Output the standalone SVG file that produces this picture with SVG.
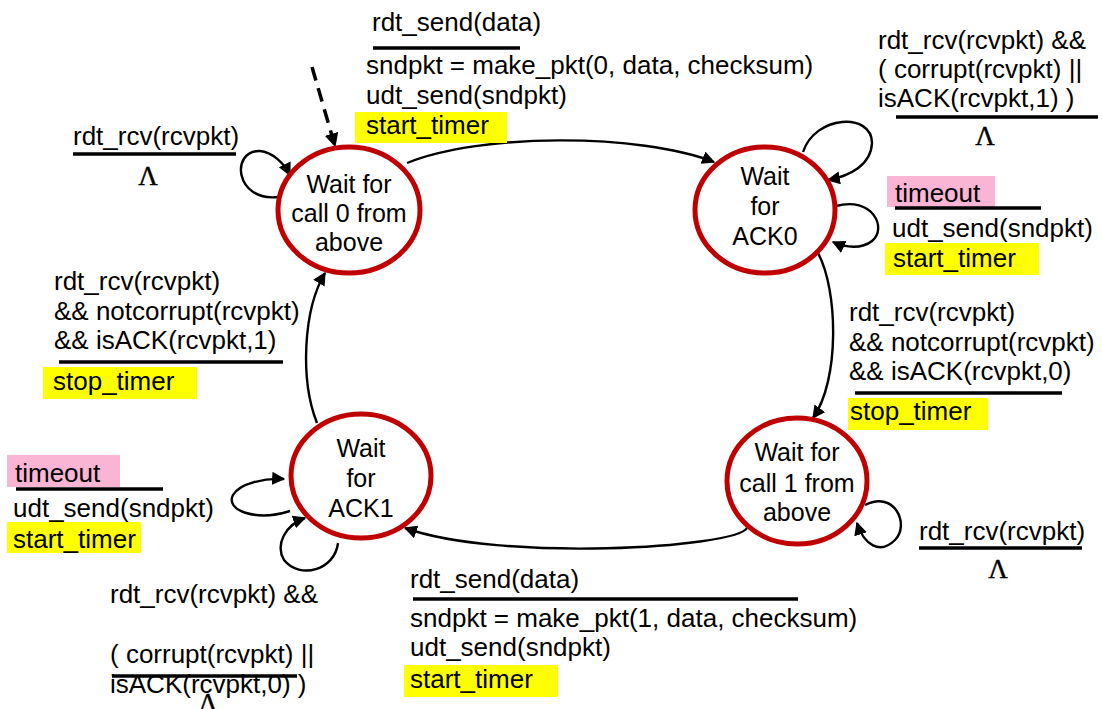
<svg xmlns="http://www.w3.org/2000/svg" width="1102" height="709" viewBox="0 0 1102 709">
<style>
.st{fill:#fff;stroke:#C00000;stroke-width:5}
.nt{font-family:"Liberation Sans",Arial,sans-serif;font-size:25px;fill:#000;text-anchor:middle}
.lb{font-family:"Liberation Sans",Arial,sans-serif;font-size:26px;fill:#000}
.lam{font-family:"Liberation Serif","Times New Roman",serif;font-size:27px;fill:#000;text-anchor:middle;stroke:#000;stroke-width:0.4}
.bar{stroke:#000;stroke-width:3.5}
.yel{fill:#FFFF00}
.pink{fill:#FAB4D4}
.cn{fill:none;stroke:#000;stroke-width:2.4;marker-end:url(#ah)}
.dash{stroke-width:3.5;stroke-dasharray:14,8}
</style>
<defs>
<marker id="ah" viewBox="0 0 10 10" refX="9" refY="5" markerWidth="5.5" markerHeight="5.5" markerUnits="strokeWidth" orient="auto">
<path d="M0,0 L10,5 L0,10 z" fill="#000"/>
</marker>
<marker id="ahd" viewBox="0 0 10 10" refX="9" refY="5" markerWidth="4" markerHeight="4" markerUnits="strokeWidth" orient="auto">
<path d="M0,0 L10,5 L0,10 z" fill="#000"/>
</marker>
</defs>
<rect width="1102" height="709" fill="#fff"/>

<g id="connectors">
<path class="cn dash" d="M312,67 L335,146" style="marker-end:url(#ahd)"/>
<path class="cn" d="M407,163 C480,133 640,133 714,162"/>
<path class="cn" d="M818,253 C838,290 840,380 813,418"/>
<path class="cn" d="M747,528 C735,548 500,562 405,528"/>
<path class="cn" d="M317,423 C300,380 303,310 325,273"/>
<path class="cn" d="M278,197 C235,202 230,150 260,151 C272,152 284,163 290,175"/>
<path class="cn" d="M803,152 C815,115 872,112 872,143 C871,165 850,176 828,180"/>
<path class="cn" d="M836,206 C872,196 888,228 872,241 C862,249 846,248 833,242"/>
<path class="cn" d="M865,505 C895,490 910,525 895,540 C880,555 864,545 857,523"/>
<path class="cn" d="M290,511 C255,522 225,510 233,495 C240,483 265,478 284,479"/>
<path class="cn" d="M338,543 C335,570 300,580 284,560 C275,545 285,525 305,518"/>
</g>

<g id="s_call0">
<ellipse class="st" cx="349" cy="210" rx="71" ry="63"/>
<text class="nt" x="349" y="193">Wait for</text>
<text class="nt" x="349" y="222">call 0 from</text>
<text class="nt" x="349" y="251">above</text>
</g>
<g id="s_ack0">
<ellipse class="st" cx="765" cy="210" rx="70" ry="63"/>
<text class="nt" x="765" y="185">Wait</text>
<text class="nt" x="765" y="215">for</text>
<text class="nt" x="765" y="245">ACK0</text>
</g>
<g id="s_call1">
<ellipse class="st" cx="797" cy="481" rx="70" ry="63"/>
<text class="nt" x="797" y="461">Wait for</text>
<text class="nt" x="797" y="492">call 1 from</text>
<text class="nt" x="797" y="521">above</text>
</g>
<g id="s_ack1">
<ellipse class="st" cx="361" cy="476" rx="70" ry="62"/>
<text class="nt" x="361" y="457">Wait</text>
<text class="nt" x="361" y="487">for</text>
<text class="nt" x="361" y="517">ACK1</text>
</g>

<g id="l_top">
<text class="lb" x="372" y="31">rdt_send(data)</text>
<line class="bar" x1="373" y1="48" x2="520" y2="48"/>
<text class="lb" x="366" y="74">sndpkt = make_pkt(0, data, checksum)</text>
<text class="lb" x="366" y="104">udt_send(sndpkt)</text>
<rect class="yel" x="355" y="112" width="152" height="31"/>
<text class="lb" x="366" y="134">start_timer</text>
</g>

<g id="l_topright">
<text class="lb" x="878" y="49">rdt_rcv(rcvpkt) &amp;&amp;</text>
<text class="lb" x="878" y="78">( corrupt(rcvpkt) ||</text>
<text class="lb" x="878" y="107">isACK(rcvpkt,1) )</text>
<line class="bar" x1="896" y1="117" x2="1098" y2="117"/>
<text class="lam" x="985" y="145">Λ</text>
</g>

<g id="l_topleft">
<text class="lb" x="73" y="145">rdt_rcv(rcvpkt)</text>
<line class="bar" x1="73" y1="154" x2="236" y2="154"/>
<text class="lam" x="148" y="185">Λ</text>
</g>

<g id="l_timeout0">
<rect class="pink" x="887" y="176" width="108" height="31"/>
<text class="lb" x="895" y="202">timeout</text>
<line class="bar" x1="895" y1="208" x2="1041" y2="208"/>
<text class="lb" x="892" y="237">udt_send(sndpkt)</text>
<rect class="yel" x="885" y="243" width="154" height="32"/>
<text class="lb" x="893" y="267">start_timer</text>
</g>

<g id="l_leftmid">
<text class="lb" x="54" y="290">rdt_rcv(rcvpkt)</text>
<text class="lb" x="54" y="320">&amp;&amp; notcorrupt(rcvpkt)</text>
<text class="lb" x="54" y="349">&amp;&amp; isACK(rcvpkt,1)</text>
<line class="bar" x1="59" y1="362" x2="283" y2="362"/>
<rect class="yel" x="43" y="367" width="154" height="32"/>
<text class="lb" x="53" y="390">stop_timer</text>
</g>

<g id="l_rightmid">
<text class="lb" x="849" y="321">rdt_rcv(rcvpkt)</text>
<text class="lb" x="849" y="351">&amp;&amp; notcorrupt(rcvpkt)</text>
<text class="lb" x="849" y="380">&amp;&amp; isACK(rcvpkt,0)</text>
<line class="bar" x1="855" y1="393" x2="1062" y2="393"/>
<rect class="yel" x="848" y="398" width="140" height="32"/>
<text class="lb" x="850" y="420">stop_timer</text>
</g>

<g id="l_timeout1">
<rect class="pink" x="7" y="455" width="113" height="32"/>
<text class="lb" x="15" y="482">timeout</text>
<line class="bar" x1="16" y1="489" x2="163" y2="489"/>
<text class="lb" x="13" y="517">udt_send(sndpkt)</text>
<rect class="yel" x="7" y="522" width="134" height="31"/>
<text class="lb" x="13" y="548">start_timer</text>
</g>

<g id="l_ack1loop">
<text class="lb" x="110" y="603">rdt_rcv(rcvpkt) &amp;&amp;</text>
<text class="lb" x="110" y="663">( corrupt(rcvpkt) ||</text>
<line class="bar" x1="112" y1="676" x2="297" y2="676"/>
<text class="lb" x="110" y="693">isACK(rcvpkt,0) )</text>
<text class="lam" x="208" y="712">Λ</text>
</g>

<g id="l_bottom">
<text class="lb" x="410" y="588">rdt_send(data)</text>
<line class="bar" x1="413" y1="599" x2="798" y2="599"/>
<text class="lb" x="410" y="627">sndpkt = make_pkt(1, data, checksum)</text>
<text class="lb" x="410" y="656">udt_send(sndpkt)</text>
<rect class="yel" x="404" y="665" width="154" height="32"/>
<text class="lb" x="410" y="688">start_timer</text>
</g>

<g id="l_bottomright">
<text class="lb" x="919" y="540">rdt_rcv(rcvpkt)</text>
<line class="bar" x1="919" y1="548" x2="1082" y2="548"/>
<text class="lam" x="998" y="578">Λ</text>
</g>
</svg>
